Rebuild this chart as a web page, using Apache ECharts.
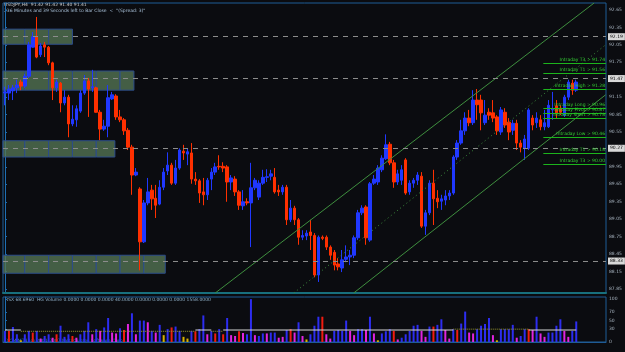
<!DOCTYPE html>
<html>
<head>
    <meta charset="utf-8">
    <title>USDJPY,H4</title>
    <script src="https://cdn.jsdelivr.net/npm/echarts@6/dist/echarts.min.js"></script>
    <style>
        html, body { margin: 0; padding: 0; background: #0b0c10; }
        #main { width: 625px; height: 352px; }
    </style>
</head>
<body>
<div id="main"></div>
<script type="text/javascript">
// H4 candles: [open, close, low, high]
var candles = [
    [91.22,91.24,91.01,91.33],[91.22,91.29,91.10,91.36],[91.26,91.31,91.10,91.36],[91.31,91.36,91.22,91.45],
    [91.41,91.34,91.27,91.45],[91.34,91.51,91.31,91.55],[91.51,92.05,91.48,92.10],[92.01,92.19,92.00,92.27],
    [92.19,91.84,91.82,92.53],[91.88,92.03,91.84,92.08],[92.05,92.01,91.84,92.10],[92.01,91.74,91.70,92.03],
    [91.74,91.31,91.10,91.76],[91.31,91.41,91.24,91.45],[91.39,91.05,90.89,91.41],[91.05,91.15,91.01,91.27],
    [91.15,90.69,90.46,91.19],[90.69,90.77,90.65,91.01],[90.76,90.95,90.64,91.01],[90.91,91.22,90.88,91.27],
    [91.22,91.43,91.19,91.53],[91.43,91.29,90.81,91.48],[91.31,91.33,91.24,91.62],[91.31,90.89,90.88,91.33],
    [90.89,90.60,90.41,90.93],[90.60,90.65,90.57,90.76],[90.65,91.14,90.46,91.36],[91.12,91.19,91.10,91.24],
    [91.17,90.81,90.76,91.20],[90.81,90.76,90.72,90.93],[90.76,90.57,90.50,90.79],[90.58,90.29,90.24,90.62],
    [90.29,89.81,89.47,90.33],[89.81,89.86,89.79,89.93],[89.57,88.66,88.17,89.60],[88.66,89.33,88.64,89.38],
    [89.33,89.52,89.29,89.76],[89.55,89.40,89.21,89.64],[89.41,89.29,89.07,89.64],[89.31,89.60,89.29,89.72],
    [89.60,89.86,89.55,89.93],[89.88,89.98,89.81,90.20],[89.98,89.67,89.64,90.02],[89.67,89.93,89.64,90.07],
    [89.93,90.24,89.90,90.27],[90.22,90.19,90.07,90.33],[90.17,90.21,89.98,90.27],[90.19,89.74,89.66,90.36],
    [89.74,89.71,89.64,89.86],[89.71,89.50,89.33,89.74],[89.52,89.47,89.29,89.76],[89.47,89.72,89.38,89.76],
    [89.74,89.86,89.55,89.93],[89.86,89.95,89.81,90.02],[89.96,89.95,89.90,90.15],[89.96,89.93,89.86,90.03],
    [89.95,89.69,89.35,89.98],[89.69,89.76,89.55,89.81],[89.74,89.52,89.45,89.79],[89.52,89.29,89.21,89.55],
    [89.28,89.35,89.21,89.55],[89.35,89.33,89.29,89.41],[89.33,89.59,88.57,90.02],[89.59,89.72,89.55,89.76],
    [89.43,89.67,89.38,89.72],[89.67,89.77,89.64,89.90],[89.77,89.78,89.69,89.91],[89.79,89.83,89.72,89.90],
    [89.77,89.52,89.49,89.93],[89.55,89.52,89.45,89.64],[89.52,89.60,89.47,89.64],[89.60,89.04,88.95,89.64],
    [89.04,89.24,89.00,89.38],[89.24,89.04,88.95,89.28],[89.04,88.74,88.61,89.07],[88.74,88.77,88.69,88.86],
    [88.76,88.81,88.69,88.86],[88.83,88.77,88.52,89.04],[88.77,88.09,88.05,88.81],[88.09,88.74,87.97,88.77],
    [88.74,88.72,88.69,88.77],[88.74,88.57,88.52,88.77],[88.57,88.43,88.35,88.60],[88.48,88.26,88.17,88.52],
    [88.28,88.23,88.17,88.38],[88.21,88.35,88.14,88.52],[88.36,88.40,88.31,88.60],[88.40,88.43,88.26,88.52],
    [88.43,88.73,88.38,88.77],[88.73,89.16,88.69,89.21],[89.16,89.24,89.12,89.29],[89.26,88.73,88.61,89.29],
    [88.69,89.66,88.66,89.69],[89.67,89.74,89.64,89.81],[89.69,89.93,89.64,89.98],[89.90,90.10,89.86,90.15],
    [90.09,90.33,90.07,90.51],[90.34,90.02,89.98,90.38],[90.02,89.69,89.59,90.07],[89.69,89.83,89.64,89.90],
    [89.72,89.90,89.64,89.98],[90.07,89.50,89.47,90.10],[89.52,89.67,89.47,89.72],[89.67,89.72,89.59,89.76],
    [89.72,89.81,89.64,89.86],[89.79,88.93,88.90,89.86],[88.93,89.16,88.78,89.21],[89.16,89.67,89.12,89.72],
    [89.67,89.40,88.95,89.90],[89.41,89.35,89.24,89.55],[89.36,89.40,89.21,89.47],[89.38,89.45,89.29,89.55],
    [89.45,89.50,89.38,89.55],[89.50,90.12,89.47,90.15],[90.12,90.36,90.07,90.41],[90.36,90.57,90.33,90.76],
    [90.57,90.79,90.50,90.89],[90.79,90.71,90.65,90.93],[90.71,91.10,90.67,91.27],[91.10,91.02,90.76,91.29],
    [91.10,90.88,90.58,91.19],[90.71,90.84,90.67,91.10],[90.89,90.84,90.76,90.96],[90.88,90.79,90.72,91.10],
    [90.81,90.57,90.50,90.84],[90.55,90.93,90.50,90.98],[90.89,90.67,90.62,90.96],[90.72,90.55,90.41,90.79],
    [90.58,90.70,90.50,90.76],[90.70,90.36,90.24,90.76],[90.36,90.29,90.20,90.41],[90.27,90.43,90.07,90.50],
    [90.27,90.93,90.24,90.96],[90.79,90.67,90.58,90.84],[90.71,90.79,90.62,90.89],[90.76,90.64,90.58,90.84],
    [90.64,90.71,90.58,90.93],[90.64,91.01,90.62,91.10],[90.93,90.95,90.76,91.24],[91.00,90.88,90.79,91.10],
    [90.96,90.89,90.84,91.01],[90.84,91.15,90.81,91.19],[91.15,91.41,91.10,91.45],[91.39,91.27,91.19,91.45],
    [91.27,91.41,91.24,91.45]
];

// HG Volume histogram (0-100 scale) and its bar type
var volume = [
    26,26,35,18,4,18,26,22,26,8, 14,18,10,18,38,12,18,14,10,18,
    26,46,18,30,26,34,56,22,20,32, 28,42,67,18,50,50,46,26,22,40,
    16,30,34,36,26,12,8,26,25,30, 62,18,26,20,30,18,56,16,14,25,
    21,18,100,16,14,20,20,22,22,10, 12,28,30,22,46,14,6,18,38,59,
    59,18,8,26,28,26,50,26,16,30, 30,28,59,20,4,20,25,30,26,6,
    10,18,26,38,40,26,12,36,36,40, 53,28,8,30,28,43,71,22,20,30,
    38,42,56,16,4,30,30,30,40,10, 14,30,30,28,59,20,12,22,22,38,
    53,26,12,26,48
];
var volType = [
    'b','r','b','b','y','b','b','r','b','m', 'b','b','m','r','b','b','b','r','m','b',
    'b','b','m','b','m','b','b','m','m','b', 'r','m','b','m','b','b','m','b','m','b',
    'y','b','r','b','b','y','y','b','r','b', 'b','m','b','r','b','r','b','m','m','r',
    'm','b','b','m','b','b','m','b','b','m', 'm','b','r','m','b','m','y','b','b','b',
    'r','m','m','b','b','b','b','m','m','b', 'b','m','b','m','y','b','b','b','r','m',
    'b','b','b','b','b','m','m','b','r','b', 'b','m','m','b','r','b','b','m','m','b',
    'b','b','b','m','y','b','b','b','b','m', 'b','b','r','m','b','m','m','b','b','b',
    'b','m','m','b','b'
];

// volume average step line
var avgStart = [0, 4, 48, 52, 55, 113, 132];
var avgEnd   = [4, 48, 52, 55, 113, 132, 144];
var avgValue = [28, 25, 28, 25, 28, 30, 28];
var avgKind  = ['w', 'o', 'w', 'o', 'w', 'o', 'w'];

// supply / demand zones (price band, last bar index) and their centre lines
var zoneHigh  = [92.32, 91.60, 90.40, 88.43];
var zoneLow   = [92.06, 91.27, 90.12, 88.12];
var zoneEnd   = [17, 32.5, 27.7, 40.4];
var zoneLevel = [92.19, 91.47, 90.27, 88.33];

// regression channel (bar index, price)
var chanUpper  = [[53.0, 87.78], [148.5, 92.77]];
var chanMiddle = [[72.8, 87.78], [151.4, 92.05]];
var chanLower  = [[87.9, 87.78], [151.4, 91.19]];

// intraday pivot levels
var levelNames  = ['Intraday T3', 'Intraday T1', 'Intraday High', 'Intraday Long', 'Intraday Pivot',
                   'Intraday Short', 'Intraday Low', 'Intraday T1', 'Intraday T3'];
var levelValues = [91.74, 91.56, 91.28, 90.96, 90.87, 90.78, 90.46, 90.18, 90.00];
var levelFrom = 135.7;

var lastPrice = 91.41;
var yTicks = [87.85, 88.15, 88.45, 88.75, 89.05, 89.35, 89.65, 89.95, 90.25, 90.55,
              90.85, 91.15, 91.45, 91.75, 92.05, 92.35, 92.65];
var subTicks = [0, 30, 50, 70, 100];
var emptyBars = 7;

var cats = [];
for (var i = 0; i < candles.length + emptyBars; i++) cats.push(String(i));
var N = cats.length;

var volColors = { b: '#2d2df0', m: '#e024e0', r: '#f01c10', y: '#d8b000' };

// each zone is drawn as a row of cells, 6 bars wide
var zoneCells = [];
zoneHigh.forEach(function (hi, z) {
    var a = -0.5;
    while (a < zoneEnd[z]) {
        var b = Math.min(zoneEnd[z], a < 0 ? 5 : a + 6);
        zoneCells.push([{ xAxis: a, yAxis: hi }, { xAxis: b, yAxis: zoneLow[z] }]);
        a = b;
    }
});

var levelLines = levelValues.map(function (v, k) {
    return [{ coord: [levelFrom, v], name: levelNames[k] + ' > ' + v.toFixed(2) },
            { coord: [N - 0.5, v] }];
});

var series = [
    {
        type: 'candlestick',
        xAxisIndex: 0, yAxisIndex: 0,
        data: candles,
        barWidth: 3,
        itemStyle: { color: '#2038ff', color0: '#ff3000', borderColor: '#2038ff', borderColor0: '#ff3000', borderWidth: 1 },
        markLine: {
            symbol: 'none', silent: true, animation: false,
            lineStyle: { opacity: 0 },
            label: { position: 'end', distance: 2, fontSize: 4.5, color: '#ffffff', backgroundColor: '#3aa0e8', padding: [1, 2],
                     formatter: function (p) { return p.value.toFixed(2); } },
            data: [{ yAxis: lastPrice }]
        }
    },
    {
        type: 'line', xAxisIndex: 2, yAxisIndex: 0, data: [], silent: true,
        markArea: {
            silent: true,
            itemStyle: { color: 'rgba(84,118,84,0.78)', borderColor: '#2c4c8a', borderWidth: 1 },
            data: zoneCells
        },
        markLine: {
            symbol: 'none', silent: true, animation: false,
            lineStyle: { color: '#8c8c8c', type: [5, 5], width: 1 },
            label: { position: 'end', distance: 2, fontSize: 4.5, color: '#000', backgroundColor: '#d8d8d8', padding: [1, 2],
                     formatter: function (p) { return p.value.toFixed(2); } },
            data: zoneLevel.map(function (v) { return { yAxis: v }; })
        }
    },
    {
        type: 'line', xAxisIndex: 2, yAxisIndex: 0, data: [], silent: true,
        markLine: {
            symbol: 'none', silent: true, animation: false,
            lineStyle: { color: '#1cb41c', type: 'solid', width: 1 },
            label: { position: 'insideEndTop', distance: [1, 1], fontSize: 4.5, color: '#34d034',
                     formatter: function (p) { return p.name; } },
            data: levelLines
        }
    },
    { type: 'line', xAxisIndex: 2, yAxisIndex: 0, data: chanUpper, symbol: 'none', silent: true,
      lineStyle: { color: '#3f8f3f', width: 1 } },
    { type: 'line', xAxisIndex: 2, yAxisIndex: 0, data: chanMiddle, symbol: 'none', silent: true,
      lineStyle: { color: '#3f8f3f', width: 1, type: [1, 3] } },
    { type: 'line', xAxisIndex: 2, yAxisIndex: 0, data: chanLower, symbol: 'none', silent: true,
      lineStyle: { color: '#3f8f3f', width: 1 } },
    {
        type: 'bar', xAxisIndex: 1, yAxisIndex: 2, barWidth: 2,
        data: volume.map(function (v, k) { return { value: v, itemStyle: { color: volColors[volType[k]] } }; })
    }
];

avgStart.forEach(function (s, k) {
    series.push({
        type: 'line', xAxisIndex: 3, yAxisIndex: 2, symbol: 'none', silent: true,
        data: [[s, avgValue[k]], [avgEnd[k], avgValue[k]]],
        lineStyle: avgKind[k] === 'w' ? { color: '#d4d4d4', width: 1 } : { color: '#9a9a30', width: 1, type: [1, 1] }
    });
});

var myChart = echarts.init(document.getElementById('main'));
myChart.setOption({
    backgroundColor: '#0b0c10',
    animation: false,
    textStyle: { fontFamily: 'DejaVu Sans' },
    grid: [
        { left: 3, right: 19, top: 3, height: 290, show: true, borderColor: '#1f5c96', borderWidth: 1 },
        { left: 3, right: 19, top: 297, height: 45, show: true, borderColor: '#1f5c96', borderWidth: 1 }
    ],
    xAxis: [
        { type: 'category', gridIndex: 0, data: cats, boundaryGap: true,
          axisLine: { lineStyle: { color: '#18707e', width: 2 } }, axisTick: { show: false }, axisLabel: { show: false } },
        { type: 'category', gridIndex: 1, data: cats, boundaryGap: true,
          axisLine: { lineStyle: { color: '#1f5c96', width: 1 } }, axisTick: { show: false }, axisLabel: { show: false } },
        { type: 'value', gridIndex: 0, min: -0.5, max: N - 0.5, show: false },
        { type: 'value', gridIndex: 1, min: -0.5, max: N - 0.5, show: false }
    ],
    yAxis: [
        { type: 'value', gridIndex: 0, position: 'right', min: 87.78, max: 92.77, scale: true,
          splitLine: { show: false },
          axisLine: { show: true, lineStyle: { color: '#1f6fb2' } },
          axisTick: { show: true, length: 2, customValues: yTicks, lineStyle: { color: '#1f6fb2' } },
          axisLabel: { customValues: yTicks, fontSize: 4.5, color: '#a8b4c0', margin: 3,
                       formatter: function (v) { return v.toFixed(2); } } },
        { type: 'value', gridIndex: 0, show: false, min: 87.78, max: 92.77 },
        { type: 'value', gridIndex: 1, position: 'right', min: 0, max: 105,
          splitLine: { show: false },
          axisLine: { show: true, lineStyle: { color: '#1f6fb2' } },
          axisTick: { show: true, length: 2, customValues: subTicks, lineStyle: { color: '#1f6fb2' } },
          axisLabel: { customValues: subTicks, fontSize: 4.5, color: '#a8b4c0', margin: 3 } }
    ],
    graphic: [
        { type: 'text', left: 4, top: 2, style: { text: 'USDJPY,H4  91.42 91.42 91.40 91.41', fontSize: 4.5, fill: '#c8c8c8', fontFamily: 'DejaVu Sans' } },
        { type: 'text', left: 4, top: 8, style: { text: '236 Minutes and 39 Seconds left to Bar Close  <  "(Spread: 3)"', fontSize: 4.5, fill: '#a8c0d8', fontFamily: 'DejaVu Sans' } },
        { type: 'text', left: 5, top: 297, style: { text: 'RSX 68.6960  HG Volume 0.0000 0.0000 0.0000 40.0000 0.0000 0.0000 0.0000 1558.0000', fontSize: 4.5, fill: '#8fb0c8', fontFamily: 'DejaVu Sans' } },
        { type: 'text', left: 4, top: 338, style: { text: 'FXCM MT4 (c) 2001-2007 MetaQuotes Software Corp.', fontSize: 4.5, fill: '#3a7ad0', fontFamily: 'DejaVu Sans' } }
    ],
    series: series
});
</script>
</body>
</html>
